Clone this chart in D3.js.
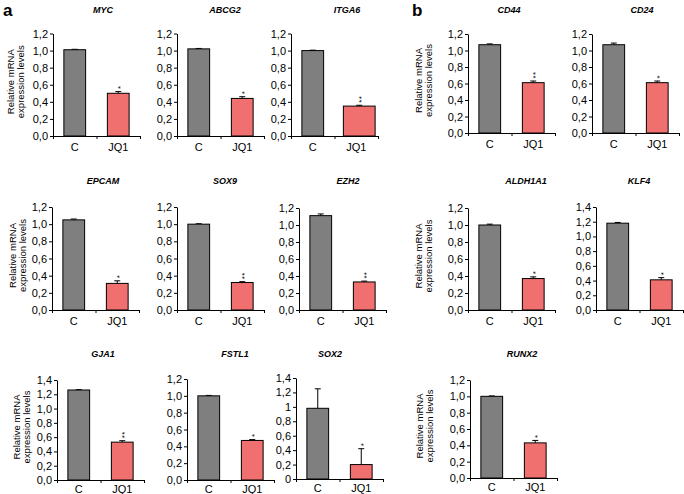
<!DOCTYPE html>
<html>
<head>
<meta charset="utf-8">
<script src="https://cdn.jsdelivr.net/npm/d3@7"></script>
<style>
  html, body { margin: 0; padding: 0; background: #fff; }
  svg { display: block; font-family: "Liberation Sans", Arial, sans-serif; }
</style>
</head>
<body>
<svg id="chart" width="684" height="494"></svg>
<script>
// ---------------- DATA ----------------
const categories = ["C", "JQ1"];
const genes        = ["MYC", "ABCG2", "ITGA6", "CD44", "CD24",
                      "EPCAM", "SOX9", "EZH2", "ALDH1A1", "KLF4",
                      "GJA1", "FSTL1", "SOX2", "RUNX2"];
const controlValues = [1.01, 1.02, 1.00, 1.07, 1.07,
                       1.05, 1.00, 1.11, 1.00, 1.18,
                       1.26, 1.00, 0.98, 1.00];
const controlErrors = [0.005, 0.005, 0.005, 0.01, 0.02,
                       0.01, 0.005, 0.02, 0.01, 0.01,
                       0.005, 0.005, 0.27, 0.005];
const jq1Values     = [0.50, 0.44, 0.35, 0.61, 0.61,
                       0.31, 0.32, 0.33, 0.37, 0.41,
                       0.53, 0.47, 0.20, 0.43];
const jq1Errors     = [0.02, 0.02, 0.01, 0.02, 0.02,
                       0.03, 0.01, 0.01, 0.02, 0.03,
                       0.02, 0.01, 0.22, 0.03];
const significance  = ["*", "*", "**", "**", "*",
                       "*", "**", "**", "*", "*",
                       "**", "*", "*", "*"];
const yMaxValues    = [1.2, 1.2, 1.2, 1.2, 1.2,
                       1.2, 1.2, 1.2, 1.2, 1.4,
                       1.4, 1.2, 1.4, 1.2];
const tickValuesTo12 = [0, 0.2, 0.4, 0.6, 0.8, 1.0, 1.2];
const tickValuesTo14 = [0, 0.2, 0.4, 0.6, 0.8, 1.0, 1.2, 1.4];
const tickLabelsFixed   = ["0,0", "0,2", "0,4", "0,6", "0,8", "1,0", "1,2", "1,4"];
const tickLabelsGeneral = ["0", "0,2", "0,4", "0,6", "0,8", "1", "1,2", "1,4"];
const yAxisTitle = ["Relative mRNA", "expression levels"];
const sectionLabels = ["a", "b"];

// ---------------- LAYOUT (positions only) ----------------
const layout = [
  {ax: 53,  top: 33.5, bottom: 136, tdx: 50, yt: true,  ytx: 11, fmt: "fixed"},
  {ax: 177, top: 33.5, bottom: 136, tdx: 48, yt: false, fmt: "fixed"},
  {ax: 291, top: 33.5, bottom: 136, tdx: 56, yt: false, fmt: "fixed", wide: true},
  {ax: 468, top: 34,   bottom: 133, tdx: 41, yt: true,  ytx: 419, fmt: "fixed"},
  {ax: 592, top: 34,   bottom: 133, tdx: 50, yt: false, fmt: "fixed"},
  {ax: 52,  top: 207,  bottom: 310, tdx: 51, yt: true,  ytx: 13, fmt: "fixed"},
  {ax: 177, top: 207,  bottom: 310, tdx: 48, yt: false, fmt: "fixed"},
  {ax: 299, top: 208,  bottom: 310, tdx: 49, yt: false, fmt: "fixed"},
  {ax: 468, top: 208,  bottom: 310, tdx: 58, yt: true,  ytx: 419, fmt: "fixed"},
  {ax: 596, top: 207,  bottom: 310, tdx: 43, yt: false, fmt: "fixed"},
  {ax: 57,  top: 380,  bottom: 480, tdx: 46, yt: true,  ytx: 17, fmt: "fixed"},
  {ax: 187, top: 379,  bottom: 480, tdx: 48, yt: false, fmt: "fixed"},
  {ax: 296, top: 378,  bottom: 479, tdx: 34, yt: false, fmt: "general"},
  {ax: 470, top: 380,  bottom: 478, tdx: 52, yt: true,  ytx: 420, fmt: "fixed"}
];
const titleY = [13, 13, 13, 13, 13, 184, 184, 184, 184, 184, 357, 357, 357, 357];
const rowOf  = [0, 0, 0, 0, 0, 1, 1, 1, 1, 1, 2, 2, 2, 2];
const xLabelOffset = [15, 15, 13];
const AXIS_W = 87;
const COLORS = {C: "#7f7f7f", JQ1: "#f07070"};

const svg = d3.select("#chart");

// section labels
svg.append("text").attr("x", 3).attr("y", 16).attr("font-size", 17).attr("font-weight", "bold").text(sectionLabels[0]);
svg.append("text").attr("x", 412).attr("y", 16).attr("font-size", 17).attr("font-weight", "bold").text(sectionLabels[1]);

genes.forEach((gene, i) => {
  const L = layout[i];
  const g = svg.append("g");
  const yMax = yMaxValues[i];
  const y = d3.scaleLinear().domain([0, yMax]).range([L.bottom, L.top]);
  const x = d3.scaleBand().domain(categories).range([L.ax, L.ax + AXIS_W]).paddingInner(0.5).paddingOuter(0.25);
  const ticks = yMax > 1.3 ? tickValuesTo14 : tickValuesTo12;
  const labels = L.fmt === "general" ? tickLabelsGeneral : tickLabelsFixed;

  const yAxis = d3.axisLeft(y).tickValues(ticks).tickSize(3).tickSizeOuter(0).tickPadding(2)
    .tickFormat((d) => labels[Math.round(d * 5)]);
  const ya = g.append("g").attr("transform", `translate(${L.ax},0)`).call(yAxis);
  ya.selectAll("text").attr("font-size", 11).attr("fill", "#000").attr("font-family", "Liberation Sans, Arial, sans-serif");
  ya.selectAll("line, path").attr("stroke", "#000");

  // x axis with boundary ticks
  const xb = d3.scaleLinear().domain([0, 2]).range([L.ax, L.ax + AXIS_W]);
  const xa = g.append("g").attr("transform", `translate(0,${L.bottom})`)
    .call(d3.axisBottom(xb).tickValues([0, 1, 2]).tickSize(3).tickSizeOuter(0).tickFormat(""));
  xa.selectAll("line, path").attr("stroke", "#000");

  // category labels
  g.selectAll(".cat").data(categories).enter().append("text")
    .attr("x", (d) => x(d) + x.bandwidth() / 2)
    .attr("y", L.bottom + xLabelOffset[rowOf[i]])
    .attr("text-anchor", "middle").attr("font-size", 11).text((d) => d);

  // bars
  const vals = [
    {cat: "C",   v: controlValues[i], e: controlErrors[i]},
    {cat: "JQ1", v: jq1Values[i],     e: jq1Errors[i]}
  ];
  vals.forEach((d) => {
    let bx = x(d.cat), bw = x.bandwidth();
    if (L.wide && d.cat === "JQ1") { bx -= 2; bw += 10; }
    const cx = bx + bw / 2;
    g.append("line").attr("x1", cx).attr("x2", cx).attr("y1", y(d.v)).attr("y2", y(d.v + d.e))
      .attr("stroke", "#000").attr("stroke-width", 1);
    g.append("line").attr("x1", cx - 3).attr("x2", cx + 3).attr("y1", y(d.v + d.e)).attr("y2", y(d.v + d.e))
      .attr("stroke", "#000").attr("stroke-width", 1);
    g.append("rect").attr("x", bx).attr("y", y(d.v)).attr("width", bw).attr("height", y(0) - y(d.v))
      .attr("fill", COLORS[d.cat]).attr("stroke", "#000").attr("stroke-width", 1);
    if (d.cat === "JQ1") {
      // significance stars stacked vertically: one rotated text element
      g.append("text")
        .attr("transform", `translate(${cx + 4.6},${y(d.v + d.e) - 2.5}) rotate(-90)`)
        .attr("text-anchor", "start").attr("font-size", 8).attr("letter-spacing", 0.3)
        .text(significance[i]);
    }
  });

  // title
  g.append("text").attr("x", L.ax + L.tdx).attr("y", titleY[i])
    .attr("text-anchor", "middle").attr("font-size", 9).attr("font-weight", "bold").attr("font-style", "italic")
    .text(gene);

  // y axis title
  if (L.yt) {
    const cy = (L.top + L.bottom) / 2 - 3;
    const t = g.append("text").attr("transform", `translate(${L.ytx},${cy}) rotate(-90)`)
      .attr("text-anchor", "middle").attr("font-size", 9.5);
    t.append("tspan").attr("x", 0).attr("dy", "0.35em").text(yAxisTitle[0]);
    t.append("tspan").attr("x", 0).attr("dy", "1.0em").text(yAxisTitle[1]);
  }
});
</script>
</body>
</html>
